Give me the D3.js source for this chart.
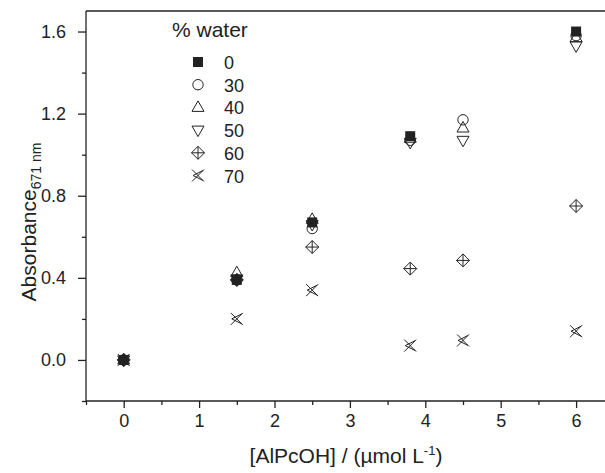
<!DOCTYPE html>
<html><head><meta charset="utf-8">
<script src="https://cdn.jsdelivr.net/npm/d3@7"></script>
<style>body{margin:0;background:#fff}svg{display:block;font-family:"Liberation Sans",Arial,sans-serif}</style>
</head><body><svg id="c" width="605" height="473"></svg>
<script>
const xValues = [0, 1.5, 2.5, 3.8, 4.5, 6];
const water0  = [0, 0.39, 0.67, 1.09, null, 1.60];
const water30 = [0, 0.39, 0.64, 1.07, 1.17, 1.58];
const water40 = [0, 0.425, 0.685, 1.08, 1.13, 1.57];
const water50 = [0, 0.395, 0.66, 1.06, 1.07, 1.53];
const water60 = [0, 0.39, 0.55, 0.445, 0.485, 0.75];
const water70 = [0, 0.20, 0.34, 0.07, 0.095, 0.14];
const seriesNames = ["0", "30", "40", "50", "60", "70"];
const xTicks = [0, 1, 2, 3, 4, 5, 6];
const yTicks = [0.0, 0.4, 0.8, 1.2, 1.6];

const allSeries = [water0, water30, water40, water50, water60, water70];
const shapes = ["square", "circle", "up", "down", "diamond", "cross"];
const ink = "#222";
const FONT = "Liberation Sans, Arial, sans-serif";
const svg = d3.select("#c");
const L = 86, T = 11, B = 401;
const x = d3.scaleLinear().domain([-0.5, 6.5]).range([L, L + 7 * 75.4]);
const y = d3.scaleLinear().domain([-0.2, 1.7]).range([B, T]);

svg.append("line").attr("x1", L).attr("x2", 610).attr("y1", T).attr("y2", T).attr("stroke", ink).attr("stroke-width", 1.3);

const xAxis = svg.append("g").attr("transform", `translate(0,${B})`)
  .call(d3.axisBottom(x).tickValues(xTicks).tickFormat(d3.format("d")).tickSize(7).tickPadding(6));
svg.append("g").attr("transform", `translate(0,${B})`)
  .call(d3.axisBottom(x).tickValues(d3.range(-0.5, 6.6, 1)).tickFormat("").tickSize(4))
  .select(".domain").remove();
const yAxis = svg.append("g").attr("transform", `translate(${L},0)`)
  .call(d3.axisLeft(y).tickValues(yTicks).tickFormat(d3.format(".1f")).tickSize(8).tickPadding(12));
svg.append("g").attr("transform", `translate(${L},0)`)
  .call(d3.axisLeft(y).tickValues([-0.2, 0.2, 0.6, 1.0, 1.4]).tickFormat("").tickSize(4))
  .select(".domain").remove();
xAxis.select(".domain").attr("d", `M${L},0H610`);
yAxis.select(".domain").attr("d", `M0,${B}V${T}`);
svg.selectAll(".tick line, .domain").attr("stroke", ink).attr("stroke-width", 1.3);
svg.selectAll("g").attr("font-size", 18).attr("font-family", FONT);
svg.selectAll(".tick text").attr("fill", ink).attr("font-size", 18).attr("font-family", FONT);

svg.append("text").attr("x", 346).attr("y", 463).attr("text-anchor", "middle").attr("font-size", 21).attr("fill", ink)
  .html('[AlPcOH] / (µmol L<tspan dy="-8" font-size="13">-1</tspan><tspan dy="8">)</tspan>');
svg.append("text").attr("transform", "translate(36,222) rotate(-90)").attr("text-anchor", "middle").attr("font-size", 21).attr("fill", ink)
  .html('Absorbance<tspan dy="5" font-size="14">671 nm</tspan>');

function drawMarker(g, shape) {
  const s = {fill: "none", stroke: ink, "stroke-width": 1};
  const ap = (el) => { for (const k in s) el.attr(k, s[k]); return el; };
  if (shape === "square") g.append("rect").attr("x", -5).attr("y", -5).attr("width", 10).attr("height", 10).attr("fill", ink);
  else if (shape === "circle") ap(g.append("circle").attr("r", 5.2));
  else if (shape === "up") ap(g.append("path").attr("d", "M0,-6.5L6,4L-6,4Z"));
  else if (shape === "down") ap(g.append("path").attr("d", "M0,6.5L6,-4L-6,-4Z"));
  else if (shape === "diamond") { ap(g.append("path").attr("d", "M0,-6.5L6.5,0L0,6.5L-6.5,0Z")); ap(g.append("path").attr("d", "M0,-6.5V6.5M-6.5,0H6.5")); }
  else if (shape === "cross") { ap(g.append("path").attr("d", "M-6,-6L6,6M-6,6L6,-6")); ap(g.append("path").attr("d", "M5,-5L-5,0L5,5")); }
}

allSeries.forEach((vals, si) => {
  const pts = xValues.map((xv, i) => ({x: xv, v: vals[i]})).filter(d => d.v !== null);
  pts.forEach(d => {
    const g = svg.append("g").attr("transform", `translate(${x(d.x)},${y(d.v)})`);
    drawMarker(g, shapes[si]);
  });
});

svg.append("text").attr("x", 172).attr("y", 37).attr("font-size", 21).attr("fill", ink).text("% water");
seriesNames.forEach((n, i) => {
  const yy = 62 + i * 22.7;
  drawMarker(svg.append("g").attr("transform", `translate(198,${yy})`), shapes[i]);
  svg.append("text").attr("x", 224).attr("y", yy + 7).attr("font-size", 18).attr("fill", ink).text(n);
});
</script></body></html>
